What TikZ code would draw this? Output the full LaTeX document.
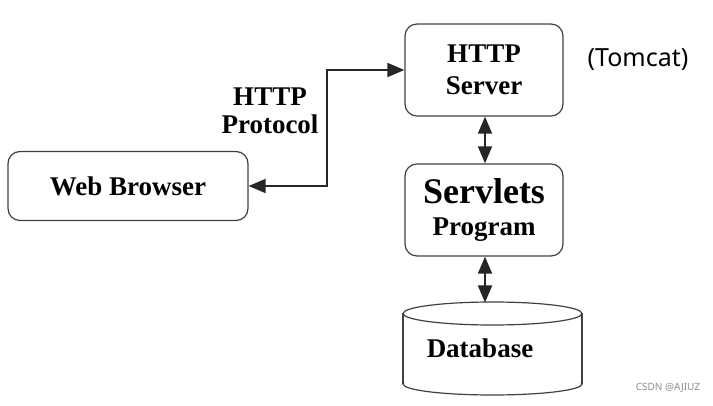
\documentclass[tikz,border=0pt]{standalone}
\usepackage{fontspec}
\setmainfont{Liberation Serif}
\newfontfamily\tagfont{Noto Sans}
\usepackage{tikz}
\usetikzlibrary{arrows.meta}

\begin{document}
\begin{tikzpicture}[
    x=1pt, y=-1pt,
    box/.style={rectangle, draw=black!75, line width=1.2pt, rounded corners=12pt,
                align=center, inner sep=0pt, font=\fontsize{27}{32}\selectfont\bfseries},
    link/.style={{Triangle[length=17pt,width=14pt]}-{Triangle[length=17pt,width=14pt]},
                 line width=1.8pt, black!85},
    rim/.style={black!75, line width=1.2pt},
    label/.style={align=center, font=\fontsize{27}{28}\selectfont\bfseries}
  ]
  \useasboundingbox (0,0) rectangle (713,406);

  % boxes
  \node[box, minimum width=158pt, minimum height=92pt] (http)    at (484,70)    {HTTP\\Server};
  \node[box, minimum width=158pt, minimum height=92pt] (servlet) at (484,210)
    {{\fontsize{36}{32}\selectfont Servlets}\\Program};
  \node[box, minimum width=240pt, minimum height=69pt] (browser) at (128,186) {Web Browser};

  % database cylinder
  \draw[rim] (403,313.5) -- (403,384) (582,313.5) -- (582,384);
  \begin{scope}
    \clip (395,384) rectangle (590,400);
    \draw[rim] (492.5,384) ellipse[x radius=89.5pt, y radius=11pt];
  \end{scope}
  \draw[rim] (492.5,313.5) ellipse[x radius=89.5pt, y radius=11.5pt];
  \node[label] (db) at (480,348) {Database};
  \coordinate (dbtop) at (485,302.5);

  % text labels
  \node[label] (proto) at (270,111) {HTTP\\Protocol};
  \node[font=\tagfont\fontsize{25}{28}\selectfont] (tomcat) at (638,60) {(Tomcat)};
  \node[font=\tagfont\fontsize{10}{12}\selectfont, text=black!45] (mark) at (668,388) {CSDN @AJIUZ};

  % connections
  \coordinate (turn) at (327,130);
  \draw[link] (browser.east) -| (turn) |- (http.west);
  \draw[link] (http.south -| 485,0) -- (servlet.north -| 485,0);
  \draw[link] (servlet.south -| 485,0) -- (dbtop);

\end{tikzpicture}
\end{document}
